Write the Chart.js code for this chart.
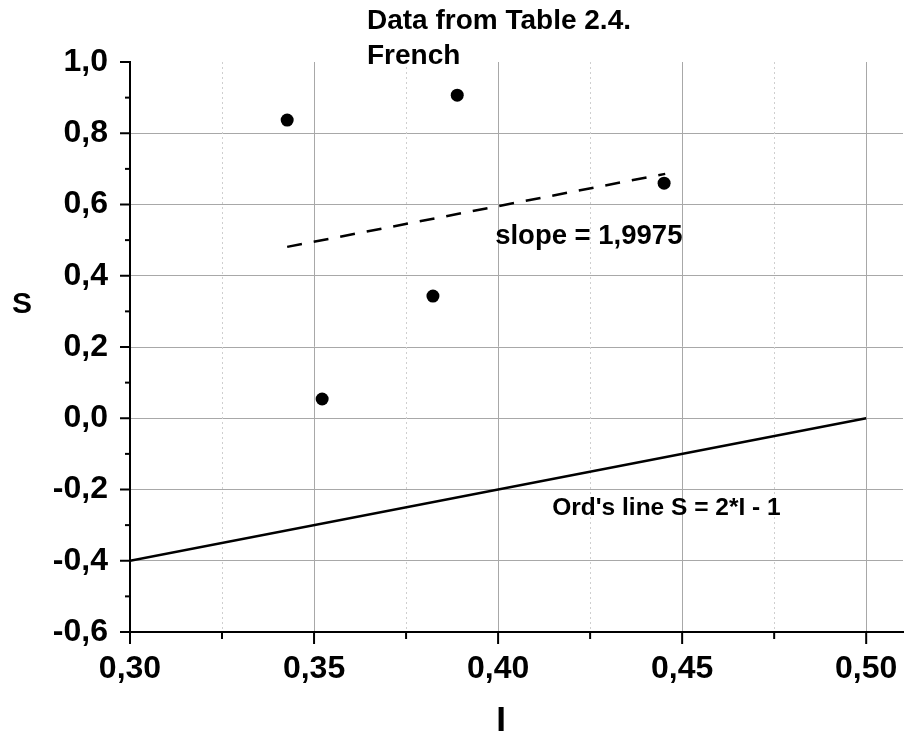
<!DOCTYPE html>
<html>
<head>
<meta charset="utf-8">
<script src="https://cdn.jsdelivr.net/npm/chart.js@4.4.1/dist/chart.umd.min.js"></script>
<style>
  html, body { margin: 0; padding: 0; background: #fff; }
  canvas { display: block; }
</style>
</head>
<body>
<canvas id="chart" width="906" height="740"></canvas>
<script>
// data
const pointI = [0.3427, 0.3889, 0.4451, 0.3823, 0.3522];
const pointS = [0.837, 0.907, 0.660, 0.343, 0.054];

const fitI = [0.3427, 0.4454];
const fitS = [0.481, 0.686];

const ordI = [0.30, 0.50];
const ordS = [-0.40, 0.00];

const xMajor = [0.30, 0.35, 0.40, 0.45, 0.50];
const xMinor = [0.325, 0.375, 0.425, 0.475];
const yMajor = [-0.6, -0.4, -0.2, 0.0, 0.2, 0.4, 0.6, 0.8, 1.0];
const yMinor = [-0.5, -0.3, -0.1, 0.1, 0.3, 0.5, 0.7, 0.9];

const titleLines = ['Data from Table 2.4.', 'French'];
const notes = [
    { text: 'slope = 1,9975', x: 0.3992, y: 0.49, size: 27.5 },
    { text: "Ord's line S = 2*I - 1", x: 0.4147, y: -0.272, size: 24.5 }
];

const FONT = "'Liberation Sans', Arial, sans-serif";
const near = (a, b) => Math.abs(a - b) < 1e-9;
const isIn = (arr, v) => arr.some(a => near(a, v));
const fmt = (v, d) => (near(v, 0) ? 0 : v).toFixed(d).replace('.', ',');

const toPts = (xs, ys) => xs.map((x, i) => ({ x: x, y: ys[i] }));

const setTicks = (major, minor) => scale => {
    scale.ticks = major.concat(minor).sort((a, b) => a - b)
        .map(v => ({ value: v, minor: !isIn(major, v) }));
};

// labels, title, tick marks, minor dotted grid
const decor = {
    id: 'decor',
    beforeDatasetsDraw(chart) {
        const { ctx, chartArea, scales: { x } } = chart;
        ctx.save();
        ctx.strokeStyle = '#cfcfcf';
        ctx.lineWidth = 1;
        ctx.setLineDash([2, 3]);
        xMinor.forEach(v => {
            const px = Math.round(x.getPixelForValue(v)) + 0.5;
            ctx.beginPath();
            ctx.moveTo(px, chartArea.top);
            ctx.lineTo(px, chartArea.bottom);
            ctx.stroke();
        });
        ctx.restore();
    },
    afterDraw(chart) {
        const { ctx, chartArea, scales: { x, y } } = chart;
        ctx.save();
        ctx.strokeStyle = '#000';
        ctx.lineWidth = 2;
        x.ticks.forEach(t => {
            const px = x.getPixelForValue(t.value);
            ctx.beginPath();
            ctx.moveTo(px, chartArea.bottom);
            ctx.lineTo(px, chartArea.bottom + (t.minor ? 7 : 12));
            ctx.stroke();
        });
        y.ticks.forEach(t => {
            const py = y.getPixelForValue(t.value);
            ctx.beginPath();
            ctx.moveTo(chartArea.left, py);
            ctx.lineTo(chartArea.left - (t.minor ? 5 : 10), py);
            ctx.stroke();
        });

        ctx.fillStyle = '#000';
        ctx.font = 'bold 28px ' + FONT;
        ctx.textAlign = 'left';
        ctx.textBaseline = 'alphabetic';
        ctx.fillText(titleLines[0], 367, 29);
        ctx.fillText(titleLines[1], 367, 64);

        notes.forEach(n => {
            ctx.font = 'bold ' + n.size + 'px ' + FONT;
            ctx.fillText(n.text, x.getPixelForValue(n.x), y.getPixelForValue(n.y));
        });

        ctx.textAlign = 'center';
        ctx.textBaseline = 'middle';
        ctx.font = 'bold 30px ' + FONT;
        ctx.fillText('S', 22, 305);
        ctx.font = 'bold 35px ' + FONT;
        ctx.fillText('I', 501, 721);
        ctx.restore();
    }
};

const tickFont = { family: FONT, size: 32, weight: 'bold' };

new Chart(document.getElementById('chart'), {
    type: 'scatter',
    data: {
        datasets: [
            {
                label: 'data',
                data: toPts(pointI, pointS),
                pointRadius: 6.5,
                pointBackgroundColor: '#000',
                pointBorderWidth: 0,
                showLine: false
            },
            {
                label: 'fit',
                data: toPts(fitI, fitS),
                showLine: true,
                borderColor: '#000',
                borderWidth: 2.5,
                borderDash: [15, 12],
                pointRadius: 0
            },
            {
                label: 'ord',
                data: toPts(ordI, ordS),
                showLine: true,
                borderColor: '#000',
                borderWidth: 2.5,
                pointRadius: 0
            }
        ]
    },
    options: {
        responsive: false,
        animation: false,
        devicePixelRatio: 1,
        layout: { autoPadding: false, padding: { left: 0, top: 62, right: 3, bottom: 0 } },
        plugins: {
            legend: { display: false },
            title: { display: false },
            tooltip: { enabled: false }
        },
        scales: {
            x: {
                type: 'linear',
                min: 0.30,
                max: 0.51,
                afterBuildTicks: setTicks(xMajor, xMinor),
                afterFit: s => { s.height = 108; s.paddingLeft = 0; s.paddingRight = 0; },
                border: { color: '#000', width: 2 },
                grid: {
                    drawTicks: false,
                    color: c => (c.tick && !c.tick.minor && !near(c.tick.value, 0.30)) ? '#a8a8a8' : 'rgba(0,0,0,0)',
                    lineWidth: 1
                },
                ticks: {
                    autoSkip: false,
                    maxRotation: 0,
                    padding: 18,
                    color: '#000',
                    font: tickFont,
                    callback: v => isIn(xMajor, v) ? fmt(v, 2) : ''
                }
            },
            y: {
                type: 'linear',
                min: -0.6,
                max: 1.0,
                afterBuildTicks: setTicks(yMajor, yMinor),
                afterFit: s => { s.width = 130; s.paddingTop = 0; s.paddingBottom = 0; },
                border: { color: '#000', width: 2 },
                grid: {
                    drawTicks: false,
                    color: c => (c.tick && !c.tick.minor && !near(c.tick.value, 1.0) && !near(c.tick.value, -0.6)) ? '#a8a8a8' : 'rgba(0,0,0,0)',
                    lineWidth: 1
                },
                ticks: {
                    autoSkip: false,
                    padding: 22,
                    color: '#000',
                    font: tickFont,
                    callback: v => isIn(yMajor, v) ? fmt(v, 1) : ''
                }
            }
        }
    },
    plugins: [decor]
});
</script>
</body>
</html>
